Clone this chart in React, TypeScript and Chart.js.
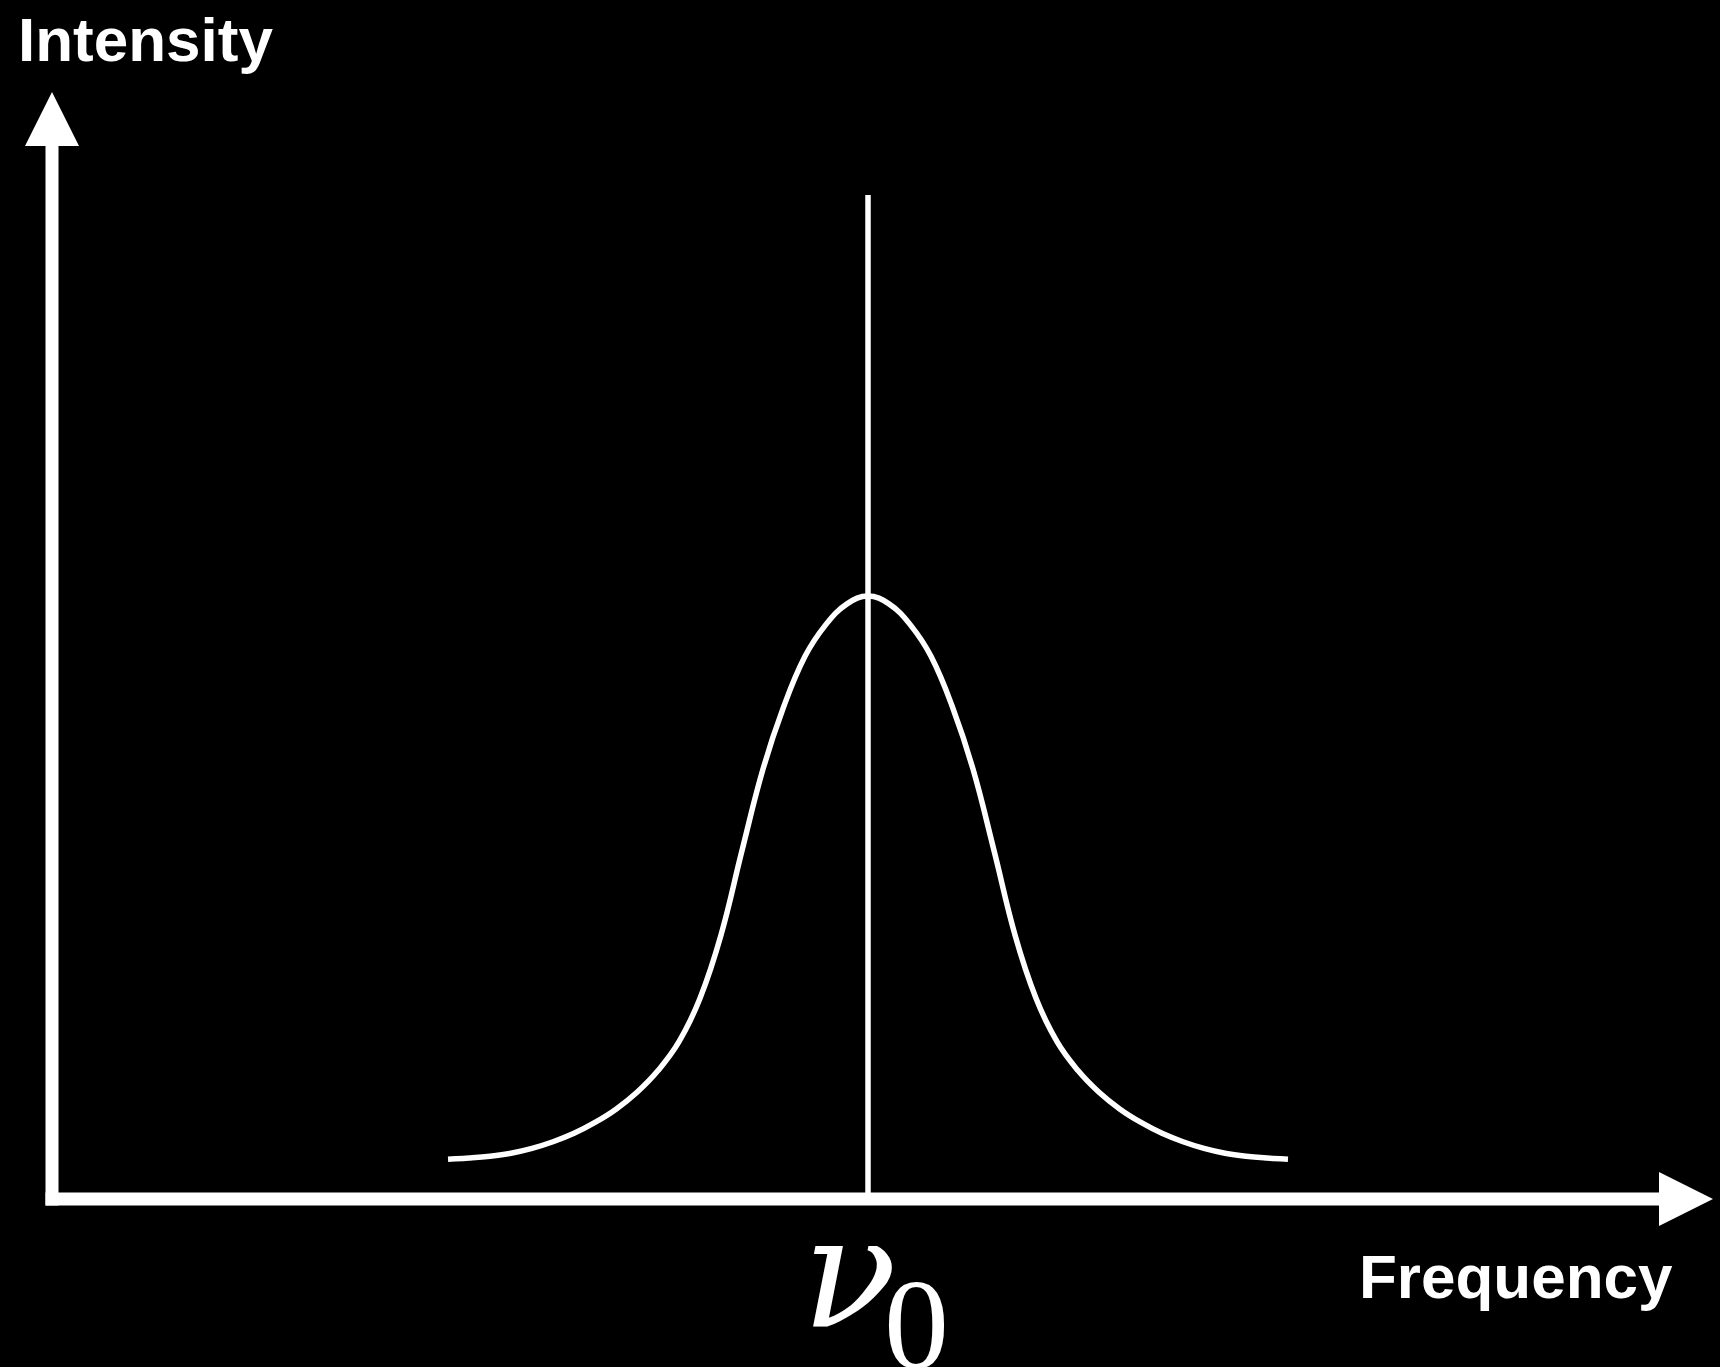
import React, { useEffect, useRef } from "react";
import { Chart, registerables } from "chart.js";

Chart.register(...registerables);

// Frequency offset from the line centre (arbitrary units) and broadened line profile.
const FREQ_OFFSET = [
  -10, -9.5, -9, -8.5, -8, -7.5, -7, -6.5, -6, -5.5, -5, -4.5, -4, -3.5, -3, -2.5, -2, -1.5, -1, -0.5,
  0, 0.5, 1, 1.5, 2, 2.5, 3, 3.5, 4, 4.5, 5, 5.5, 6, 6.5, 7, 7.5, 8, 8.5, 9, 9.5, 10,
];
const PROFILE = [
  0.066, 0.068, 0.071, 0.076, 0.084, 0.095, 0.109, 0.127, 0.149, 0.177, 0.213, 0.261, 0.333, 0.438, 0.578, 0.713,
  0.818, 0.9, 0.953, 0.987,
  1.0,
  0.987, 0.953, 0.9, 0.818, 0.713, 0.578, 0.438, 0.333, 0.261, 0.213, 0.177, 0.149, 0.127, 0.109, 0.095, 0.084,
  0.076, 0.071, 0.068, 0.066,
];

// Unbroadened line at the rest frequency ν0.
const LINE_CENTER = 0;
const LINE_HEIGHT = 1.665;

const X_RANGE = [-19.43, 20.12];
const Y_RANGE = [0, 1.836];

const AXIS_TITLES = { x: "Frequency", y: "Intensity" };
const CENTER_SYMBOL = "ν";
const CENTER_SUBSCRIPT = "0";

const W = 1720;
const H = 1367;

const axesPlugin = {
  id: "arrowAxes",
  afterDatasetsDraw(chart: any) {
    const { ctx, chartArea, scales } = chart;
    const x0 = scales.x.getPixelForValue(X_RANGE[0]);
    const y0 = scales.y.getPixelForValue(0);
    const xEnd = chartArea.right;
    const yEnd = chartArea.top;
    const thick = 13;
    const headLen = 54;
    const headHalf = 27;
    ctx.save();
    ctx.fillStyle = "#ffffff";
    // vertical axis
    ctx.fillRect(x0 - thick / 2, yEnd + headLen - 1, thick, y0 + thick / 2 - (yEnd + headLen - 1));
    ctx.beginPath();
    ctx.moveTo(x0, yEnd);
    ctx.lineTo(x0 + headHalf, yEnd + headLen);
    ctx.lineTo(x0 - headHalf, yEnd + headLen);
    ctx.closePath();
    ctx.fill();
    // horizontal axis
    ctx.fillRect(x0 - thick / 2, y0 - thick / 2, xEnd - headLen + 1 - (x0 - thick / 2), thick);
    ctx.beginPath();
    ctx.moveTo(xEnd, y0);
    ctx.lineTo(xEnd - headLen, y0 - headHalf);
    ctx.lineTo(xEnd - headLen, y0 + headHalf);
    ctx.closePath();
    ctx.fill();

    // axis titles
    ctx.textBaseline = "alphabetic";
    ctx.textAlign = "left";
    ctx.font = "bold 62px 'Liberation Sans', Arial, sans-serif";
    let m = ctx.measureText(AXIS_TITLES.y);
    ctx.fillText(AXIS_TITLES.y, 22 + m.actualBoundingBoxLeft, 61);
    m = ctx.measureText(AXIS_TITLES.x);
    ctx.fillText(AXIS_TITLES.x, 1363 + m.actualBoundingBoxLeft, 1298);

    // ν0 marker under the line centre
    const cx = scales.x.getPixelForValue(LINE_CENTER);
    ctx.font = "italic 156px 'DejaVu Serif', 'Liberation Serif', serif";
    m = ctx.measureText(CENTER_SYMBOL);
    ctx.fillText(CENTER_SYMBOL, cx - 55 + m.actualBoundingBoxLeft, 1327);
    ctx.font = "130px 'Liberation Serif', 'DejaVu Serif', serif";
    m = ctx.measureText(CENTER_SUBSCRIPT);
    ctx.fillText(CENTER_SUBSCRIPT, cx + 20 + m.actualBoundingBoxLeft, 1368);
    ctx.restore();
  },
};

export default function App() {
  const ref = useRef<HTMLCanvasElement | null>(null);

  useEffect(() => {
    if (!ref.current) return;
    const profile = FREQ_OFFSET.map((x, i) => ({ x, y: PROFILE[i] }));
    const line = [
      { x: LINE_CENTER, y: 0 },
      { x: LINE_CENTER, y: LINE_HEIGHT },
    ];
    const chart = new Chart(ref.current, {
      type: "line",
      data: {
        datasets: [
          {
            data: line,
            borderColor: "#ffffff",
            borderWidth: 5.5,
            pointRadius: 0,
            tension: 0,
            borderCapStyle: "butt",
          },
          {
            data: profile,
            borderColor: "#ffffff",
            borderWidth: 5.5,
            pointRadius: 0,
            tension: 0.4,
            borderCapStyle: "butt",
            borderJoinStyle: "round",
          },
        ],
      },
      options: {
        responsive: false,
        animation: false,
        devicePixelRatio: 1,
        layout: { padding: { left: 52, right: 7, top: 92, bottom: 168 } },
        plugins: { legend: { display: false }, tooltip: { enabled: false } },
        scales: {
          x: { type: "linear", min: X_RANGE[0], max: X_RANGE[1], display: false },
          y: { type: "linear", min: Y_RANGE[0], max: Y_RANGE[1], display: false },
        },
        clip: false,
      } as any,
      plugins: [axesPlugin],
    });
    return () => chart.destroy();
  }, []);

  return (
    <div
      style={{
        position: "absolute",
        left: 0,
        top: 0,
        width: W,
        height: H,
        background: "#000000",
        overflow: "hidden",
      }}
    >
      <canvas ref={ref} width={W} height={H} style={{ display: "block" }} />
    </div>
  );
}
